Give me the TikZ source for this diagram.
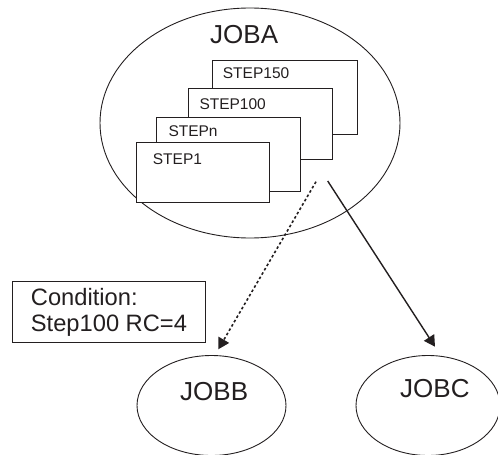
\documentclass[tikz,border=0pt]{standalone}
\usepackage{fontspec}
\setmainfont{Liberation Sans}
\usetikzlibrary{arrows.meta}
\definecolor{ink}{HTML}{231F20}
\tikzset{
  shp/.style={draw=ink, line width=0.9pt},
  steprect/.style={shp, fill=white},
  steplbl/.style={inner sep=0pt, anchor=base west, font=\fontsize{15.5}{18}\selectfont, text=ink},
  joblbl/.style={inner sep=0pt, anchor=base west, font=\fontsize{26}{30}\selectfont, text=ink},
  condlbl/.style={inner sep=0pt, anchor=base west, font=\fontsize{23.7}{27}\selectfont, text=ink},
  conn/.style={draw=ink, line width=1.4pt, -{Triangle[length=11pt,width=12pt]}},
  dotconn/.style={conn, line width=1.6pt, dash pattern=on 2.6pt off 2.4pt},
}
\begin{document}
\begin{tikzpicture}[x=1pt,y=-1pt]
\useasboundingbox (0,0) rectangle (498,455);
% JOBA ellipse
\draw[shp] (250,123) ellipse [x radius=150, y radius=115];
\node[joblbl] (joba) at (210,43.3) {JOBA};
% step rectangles, back to front
\draw[steprect] (212,60) rectangle (357,134);
\node[steplbl] (s150) at (222.7,78.3) {STEP150};
\draw[steprect] (188,88.3) rectangle (332,159.5);
\node[steplbl] (s100) at (199.3,109.3) {STEP100};
\draw[steprect] (156,117) rectangle (300,191);
\node[steplbl] (sn) at (168.3,136) {STEPn};
\draw[steprect] (136.7,142.7) rectangle (269.3,202.7);
\node[steplbl] (s1) at (152.7,164) {STEP1};
% condition box
\draw[shp] (12.7,281.7) rectangle (205,342.7);
\node[condlbl] (cond) at (30.7,305) {Condition:};
\node[condlbl] (cond2) at (30.7,331.7) {Step100 RC=4};
% JOBB, JOBC
\draw[shp] (211.5,405.5) ellipse [x radius=74.5, y radius=50];
\node[joblbl] (jobb) at (180,400.7) {JOBB};
\draw[shp] (428,405.5) ellipse [x radius=72, y radius=50];
\node[joblbl] (jobc) at (400,397.3) {JOBC};
% connectors
\coordinate (da) at (316,181.7);
\coordinate (db) at (218.3,349.3);
\coordinate (sa) at (327.7,181);
\coordinate (sb) at (435,346.7);
\draw[dotconn] (da) -- (db);
\draw[conn] (sa) -- (sb);
\end{tikzpicture}
\end{document}
